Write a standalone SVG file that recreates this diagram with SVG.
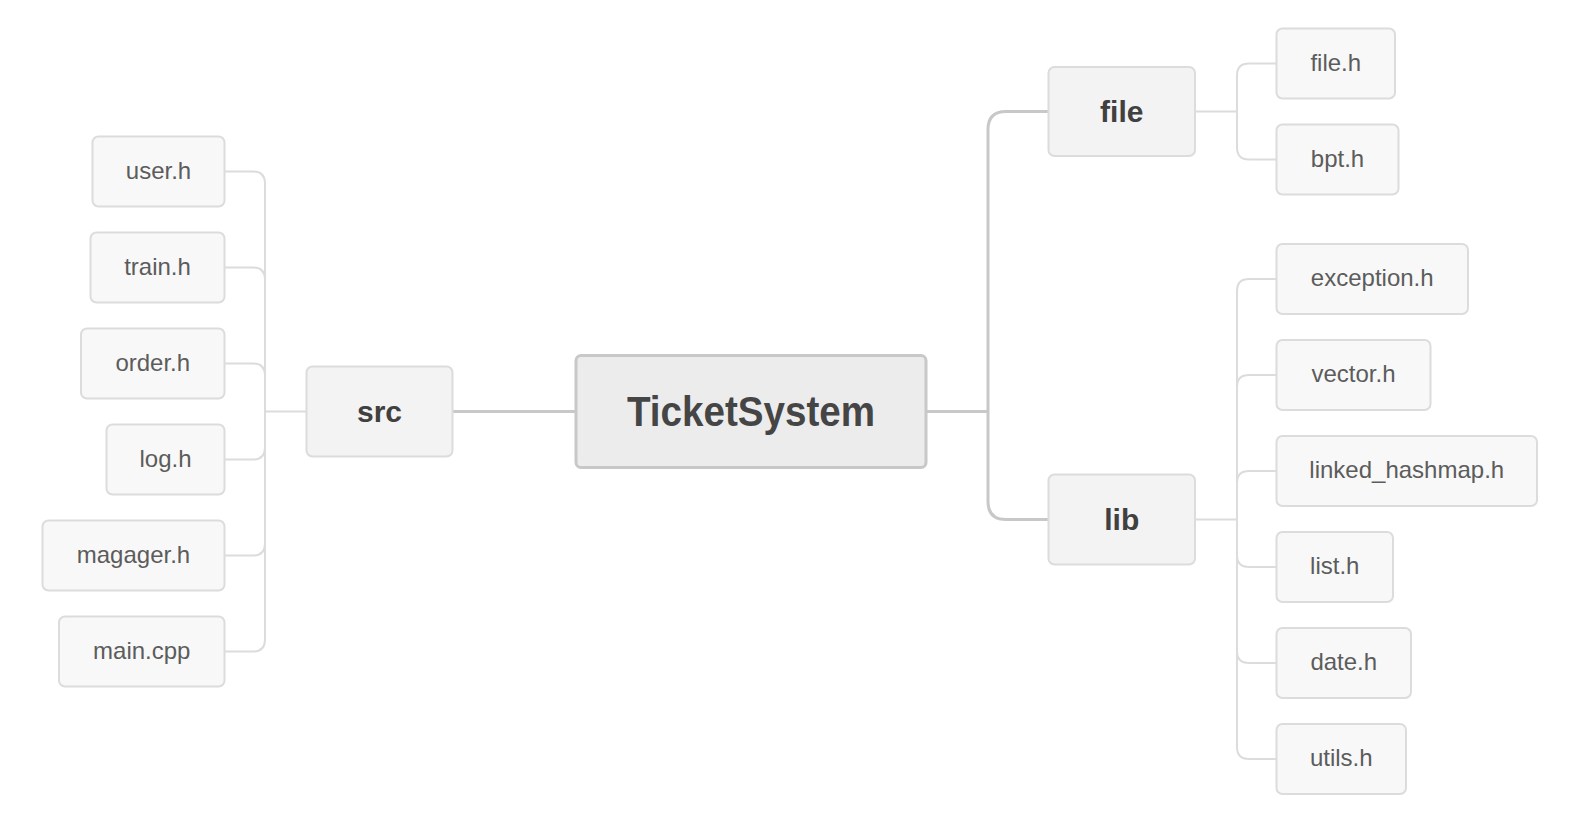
<svg xmlns="http://www.w3.org/2000/svg" width="1592" height="836" viewBox="0 0 1592 836">
<style>
.leaf rect{fill:#f8f8f8;stroke:#dcdcdc;stroke-width:2}
.leaf text{font-family:"Liberation Sans",Arial,sans-serif;font-size:24px;fill:#5c5c5c;text-anchor:middle}
.mid rect{fill:#f3f3f3;stroke:#dcdcdc;stroke-width:2}
.mid text{font-family:"Liberation Sans",Arial,sans-serif;font-size:30px;font-weight:bold;fill:#404040;text-anchor:middle}
.root rect{fill:#ececec;stroke:#c8c8c8;stroke-width:3}
.root text{font-family:"Liberation Sans",Arial,sans-serif;font-size:43px;font-weight:bold;fill:#454545;text-anchor:middle}
.thin{fill:none;stroke:#dcdcdc;stroke-width:2}
.thick{fill:none;stroke:#c8c8c8;stroke-width:3}
</style>
<rect width="1592" height="836" fill="#ffffff"/>
<g id="connectors">
<path class="thick" d="M453 411.5H576"/>
<path class="thick" d="M926 411.5H988"/>
<path class="thick" d="M1048.5 111.5H1006Q988 111.5 988 129.5V501.5Q988 519.5 1006 519.5H1048.5"/>
<path class="thin" d="M306.5 411.5H265"/>
<path class="thin" d="M224.5 171.5H253Q265 171.5 265 183.5V639.5Q265 651.5 253 651.5H224.5"/>
<path class="thin" d="M224.5 267.5H253Q265 267.5 265 279.5"/>
<path class="thin" d="M224.5 363.5H253Q265 363.5 265 375.5"/>
<path class="thin" d="M224.5 459.5H253Q265 459.5 265 447.5"/>
<path class="thin" d="M224.5 555.5H253Q265 555.5 265 543.5"/>
<path class="thin" d="M1195 111.5H1237"/>
<path class="thin" d="M1276.5 63.5H1249Q1237 63.5 1237 75.5V147.5Q1237 159.5 1249 159.5H1276.5"/>
<path class="thin" d="M1195 519.5H1237"/>
<path class="thin" d="M1276.5 279H1249Q1237 279 1237 291V747Q1237 759 1249 759H1276.5"/>
<path class="thin" d="M1276.5 375H1249Q1237 375 1237 387"/>
<path class="thin" d="M1276.5 471H1249Q1237 471 1237 483"/>
<path class="thin" d="M1276.5 567H1249Q1237 567 1237 555"/>
<path class="thin" d="M1276.5 663H1249Q1237 663 1237 651"/>
</g>
<g id="root" class="root">
<rect x="576" y="355.5" width="350" height="112" rx="5"/>
<text x="751" y="426" textLength="248" lengthAdjust="spacingAndGlyphs">TicketSystem</text>
</g>
<g id="src" class="mid">
<rect x="306.5" y="366.5" width="146" height="90" rx="6"/>
<text x="379.5" y="421.5">src</text>
</g>
<g id="file" class="mid">
<rect x="1048.5" y="67" width="146.5" height="89" rx="6"/>
<text x="1121.75" y="121.5">file</text>
</g>
<g id="lib" class="mid">
<rect x="1048.5" y="474.5" width="146.5" height="90" rx="6"/>
<text x="1121.75" y="529.5">lib</text>
</g>
<g id="user_h" class="leaf"><rect x="92.5" y="136.5" width="132" height="70" rx="6"/><text x="158.5" y="178.5">user.h</text></g>
<g id="train_h" class="leaf"><rect x="90.5" y="232.5" width="134" height="70" rx="6"/><text x="157.5" y="274.5">train.h</text></g>
<g id="order_h" class="leaf"><rect x="81" y="328.5" width="143.5" height="70" rx="6"/><text x="152.75" y="370.5">order.h</text></g>
<g id="log_h" class="leaf"><rect x="106.5" y="424.5" width="118" height="70" rx="6"/><text x="165.5" y="466.5">log.h</text></g>
<g id="magager_h" class="leaf"><rect x="42.5" y="520.5" width="182" height="70" rx="6"/><text x="133.5" y="562.5">magager.h</text></g>
<g id="main_cpp" class="leaf"><rect x="59" y="616.5" width="165.5" height="70" rx="6"/><text x="141.75" y="658.5">main.cpp</text></g>
<g id="file_h" class="leaf"><rect x="1276.5" y="28.5" width="118.5" height="70" rx="6"/><text x="1335.75" y="70.5">file.h</text></g>
<g id="bpt_h" class="leaf"><rect x="1276.5" y="124.5" width="122" height="70" rx="6"/><text x="1337.5" y="166.5">bpt.h</text></g>
<g id="exception_h" class="leaf"><rect x="1276.5" y="244" width="191.5" height="70" rx="6"/><text x="1372.25" y="286">exception.h</text></g>
<g id="vector_h" class="leaf"><rect x="1276.5" y="340" width="154" height="70" rx="6"/><text x="1353.5" y="382">vector.h</text></g>
<g id="linked_hashmap_h" class="leaf"><rect x="1276.5" y="436" width="260.5" height="70" rx="6"/><text x="1406.75" y="478">linked_hashmap.h</text></g>
<g id="list_h" class="leaf"><rect x="1276.5" y="532" width="116.5" height="70" rx="6"/><text x="1334.75" y="574">list.h</text></g>
<g id="date_h" class="leaf"><rect x="1276.5" y="628" width="134.5" height="70" rx="6"/><text x="1343.75" y="670">date.h</text></g>
<g id="utils_h" class="leaf"><rect x="1276.5" y="724" width="129.5" height="70" rx="6"/><text x="1341.25" y="766">utils.h</text></g>
</svg>
